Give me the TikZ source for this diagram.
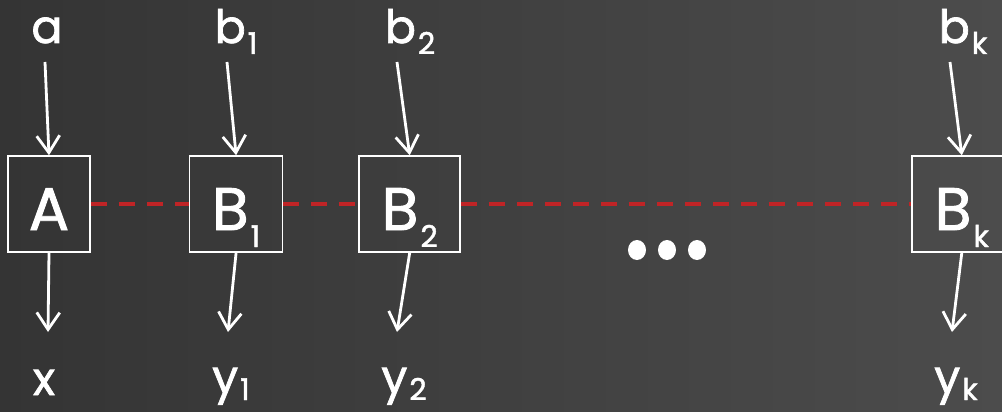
\documentclass[tikz,border=0pt]{standalone}
\usepackage{fontspec}
\setmainfont{Poppins}[UprightFeatures={FakeBold=1.5}]
\usepackage{xcolor}
\usepackage{graphicx}
\usetikzlibrary{arrows.meta,positioning}
\definecolor{bgleft}{RGB}{52,52,52}
\definecolor{bgright}{RGB}{76,76,76}
\definecolor{linkred}{RGB}{192,36,38}
\newcommand{\idx}[2][11pt]{\hspace{2pt}\raisebox{-#1}{\fontsize{30}{30}\selectfont #2}}

\begin{document}
\begin{tikzpicture}[x=1pt,y=-1pt,
   box/.style={draw=white,line width=1.6pt,minimum height=96pt,inner sep=0pt,
     text height=60pt,text depth=8pt,text=white,font=\fontsize{60}{60}\selectfont},
   lbl/.style={anchor=base,text=white,inner sep=0pt,font=\fontsize{46}{46}\selectfont},
   link/.style={draw=linkred,line width=3.6pt,dash pattern=on 16pt off 12pt},
   flow/.style={->,draw=white,line width=2.8pt},
   >={Straight Barb[length=17pt,width=23pt]}]
 \shade[left color=bgleft,right color=bgright] (0,0) rectangle (1002,412);
 \useasboundingbox (0,0) rectangle (1002,412);
 % blocks
 \node[box,minimum width=82pt] (A) at (49,204) {A};
 \node[box,minimum width=93pt,right=98pt of A] (B1) {B\idx[17pt]{1}};
 \node[box,minimum width=101pt,right=75pt of B1] (B2) {B\idx[17pt]{2}};
 \node[box,minimum width=100pt,right=450pt of B2] (Bk) {B\idx[17pt]{k}};
 % inputs and outputs
 \node[lbl] (a) at (47,43) {a};
 \node[lbl] (b1) at (236,43) {b\idx{1}};
 \node[lbl] (b2) at (410,43) {b\idx{2}};
 \node[lbl] (bk) at (963,43) {b\idx{k}};
 \node[lbl] (x) at (44,395) {x};
 \node[lbl] (y1) at (231,393) {y\idx[7pt]{1}};
 \node[lbl] (y2) at (404,393) {y\idx[7pt]{2}};
 \node[lbl] (yk) at (956,393) {y\idx[7pt]{k}};
 \draw[link] (A) -- (B1);
 \draw[link] (B1) -- (B2);
 \draw[link] (B2) -- (Bk);
 \draw[flow] ([xshift=-2pt,yshift=-19pt]a.base) -- (A.north);
 \draw[flow] ([xshift=-9pt,yshift=-19pt]b1.base) -- (B1.north);
 \draw[flow] ([xshift=-13pt,yshift=-19pt]b2.base) -- (B2.north);
 \draw[flow] ([xshift=-13pt,yshift=-19pt]bk.base) -- (Bk.north);
 \draw[flow] (A.south) -- ([xshift=4pt,yshift=63pt]x.base);
 \draw[flow] (B1.south) -- ([xshift=-3pt,yshift=61pt]y1.base);
 \draw[flow] (B2.south) -- ([xshift=-7pt,yshift=61pt]y2.base);
 \draw[flow] (Bk.south) -- ([xshift=-4pt,yshift=61pt]yk.base);
 % dots
 \foreach \dx in {637,667,697}
   \fill[white] (\dx,250) ellipse [x radius=9pt,y radius=10pt];
\end{tikzpicture}
\end{document}
